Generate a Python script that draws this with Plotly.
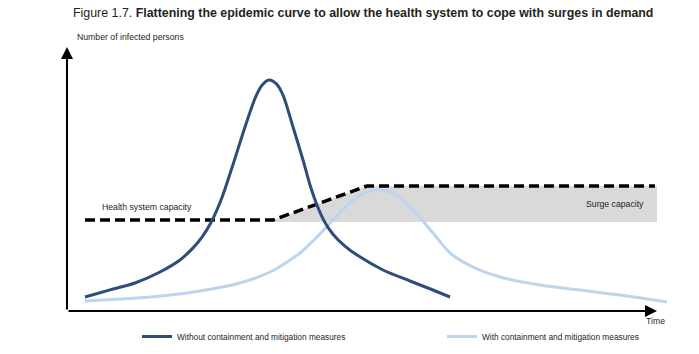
import plotly.graph_objects as go

# ---- Data (conceptual units: time 0-100, infected 0-100) ----
time_without = [3.05, 7.29, 11.53, 15.76, 19.15, 21.36, 22.88, 24.41, 26.27, 28.14, 30.17,
                31.86, 33.05, 34.24, 35.42, 36.61, 38.31, 40.00, 41.19, 42.37, 43.56, 45.08,
                47.10, 49.50, 53.56, 58.14, 62.03, 64.92]
infected_without = [5.30, 8.00, 10.61, 14.77, 19.32, 23.90, 28.00, 33.50, 43.00, 55.50, 69.70,
                    80.50, 85.50, 87.50, 86.20, 81.80, 69.70, 57.20, 47.73, 40.15, 34.20, 29.10,
                    24.60, 20.70, 15.53, 11.36, 7.95, 5.30]

time_with = [3.05, 14.07, 22.54, 29.32, 34.41, 37.80, 39.49, 42.37, 45.08, 47.97, 49.66,
             51.36, 53.05, 55.25, 58.64, 62.03, 64.92, 68.81, 73.39, 80.17, 86.95, 93.73, 101.69]
infected_with = [3.79, 5.30, 7.58, 10.61, 14.77, 19.32, 21.97, 28.03, 34.47, 40.91, 43.94,
                 45.45, 45.83, 44.70, 38.26, 29.55, 21.97, 16.67, 12.88, 9.85, 7.95, 6.06, 3.41]

capacity_time = [3.05, 34.92, 50.85, 99.66]
capacity_level = [34.47, 34.47, 47.35, 47.35]

surge_time = [34.92, 50.85, 100.0, 100.0, 34.92]
surge_level = [34.47, 47.35, 47.35, 33.71, 33.71]

series_names = ["Without containment and mitigation measures",
                "With containment and mitigation measures"]

DARK = "#2e4d7b"
LIGHT = "#bdd4ec"
TXT = "#231f20"
FONT = "Liberation Sans, Arial, sans-serif"

W, H = 699, 354

fig = go.Figure()

fig.add_trace(go.Scatter(x=surge_time, y=surge_level, fill="toself", mode="none",
                         fillcolor="#d9d9d9", showlegend=False, hoverinfo="skip"))
fig.add_trace(go.Scatter(x=capacity_time, y=capacity_level, mode="lines",
                         line=dict(color="black", width=3.5, dash="10px,5px"),
                         showlegend=False, hoverinfo="skip"))
fig.add_trace(go.Scatter(x=time_with, y=infected_with, mode="lines", name=series_names[1],
                         legend="legend2",
                         line=dict(color=LIGHT, width=3, shape="spline", smoothing=0.8)))
fig.add_trace(go.Scatter(x=time_without, y=infected_without, mode="lines", name=series_names[0],
                         legend="legend",
                         line=dict(color=DARK, width=3, shape="spline", smoothing=0.8)))

def px(x):
    return x / W

def py(y):
    return 1 - y / H

annotations = [
    # axes with arrows
    dict(x=0, y=100, ax=0, ay=0, xref="x", yref="y", axref="x", ayref="y", text="",
         showarrow=True, arrowhead=2, arrowsize=1.2, arrowwidth=2, arrowcolor="black"),
    dict(x=100, y=0, ax=0, ay=0, xref="x", yref="y", axref="x", ayref="y", text="",
         showarrow=True, arrowhead=2, arrowsize=1.2, arrowwidth=2, arrowcolor="black"),
    dict(x=px(71), y=py(13), xref="paper", yref="paper", xanchor="left", yanchor="middle",
         text="Figure 1.7. <b>Flattening the epidemic curve to allow the health system to cope with surges in demand</b>",
         showarrow=False, font=dict(size=12.4, color=TXT, family=FONT)),
    dict(x=px(75), y=py(37), xref="paper", yref="paper", xanchor="left", yanchor="middle",
         text="Number of infected persons", showarrow=False,
         font=dict(size=8.7, color=TXT, family=FONT)),
    dict(x=px(100), y=py(207), xref="paper", yref="paper", xanchor="left", yanchor="middle",
         text="Health system capacity", showarrow=False,
         font=dict(size=8.7, color=TXT, family=FONT)),
    dict(x=px(646), y=py(204), xref="paper", yref="paper", xanchor="right", yanchor="middle",
         text="Surge capacity", showarrow=False,
         font=dict(size=8.7, color=TXT, family=FONT)),
    dict(x=px(655), y=py(321), xref="paper", yref="paper", xanchor="center", yanchor="middle",
         text="Time", showarrow=False,
         font=dict(size=8.7, color=TXT, family=FONT)),
]

legend_style = dict(orientation="h", xanchor="left", yanchor="top",
                    font=dict(size=8.3, color=TXT, family=FONT),
                    bgcolor="rgba(0,0,0,0)")

fig.update_layout(
    width=W, height=H,
    margin=dict(l=0, r=0, t=0, b=0),
    paper_bgcolor="white", plot_bgcolor="white",
    xaxis=dict(range=[-67 / 5.9, (W - 67) / 5.9], visible=False, fixedrange=True),
    yaxis=dict(range=[(311 - H) / 2.64, 311 / 2.64], visible=False, fixedrange=True),
    annotations=annotations,
    showlegend=True,
    legend=dict(x=px(137), y=py(322), **legend_style),
    legend2=dict(x=px(442), y=py(322), **legend_style),
    font=dict(family=FONT),
)

fig.write_html("out.html")
